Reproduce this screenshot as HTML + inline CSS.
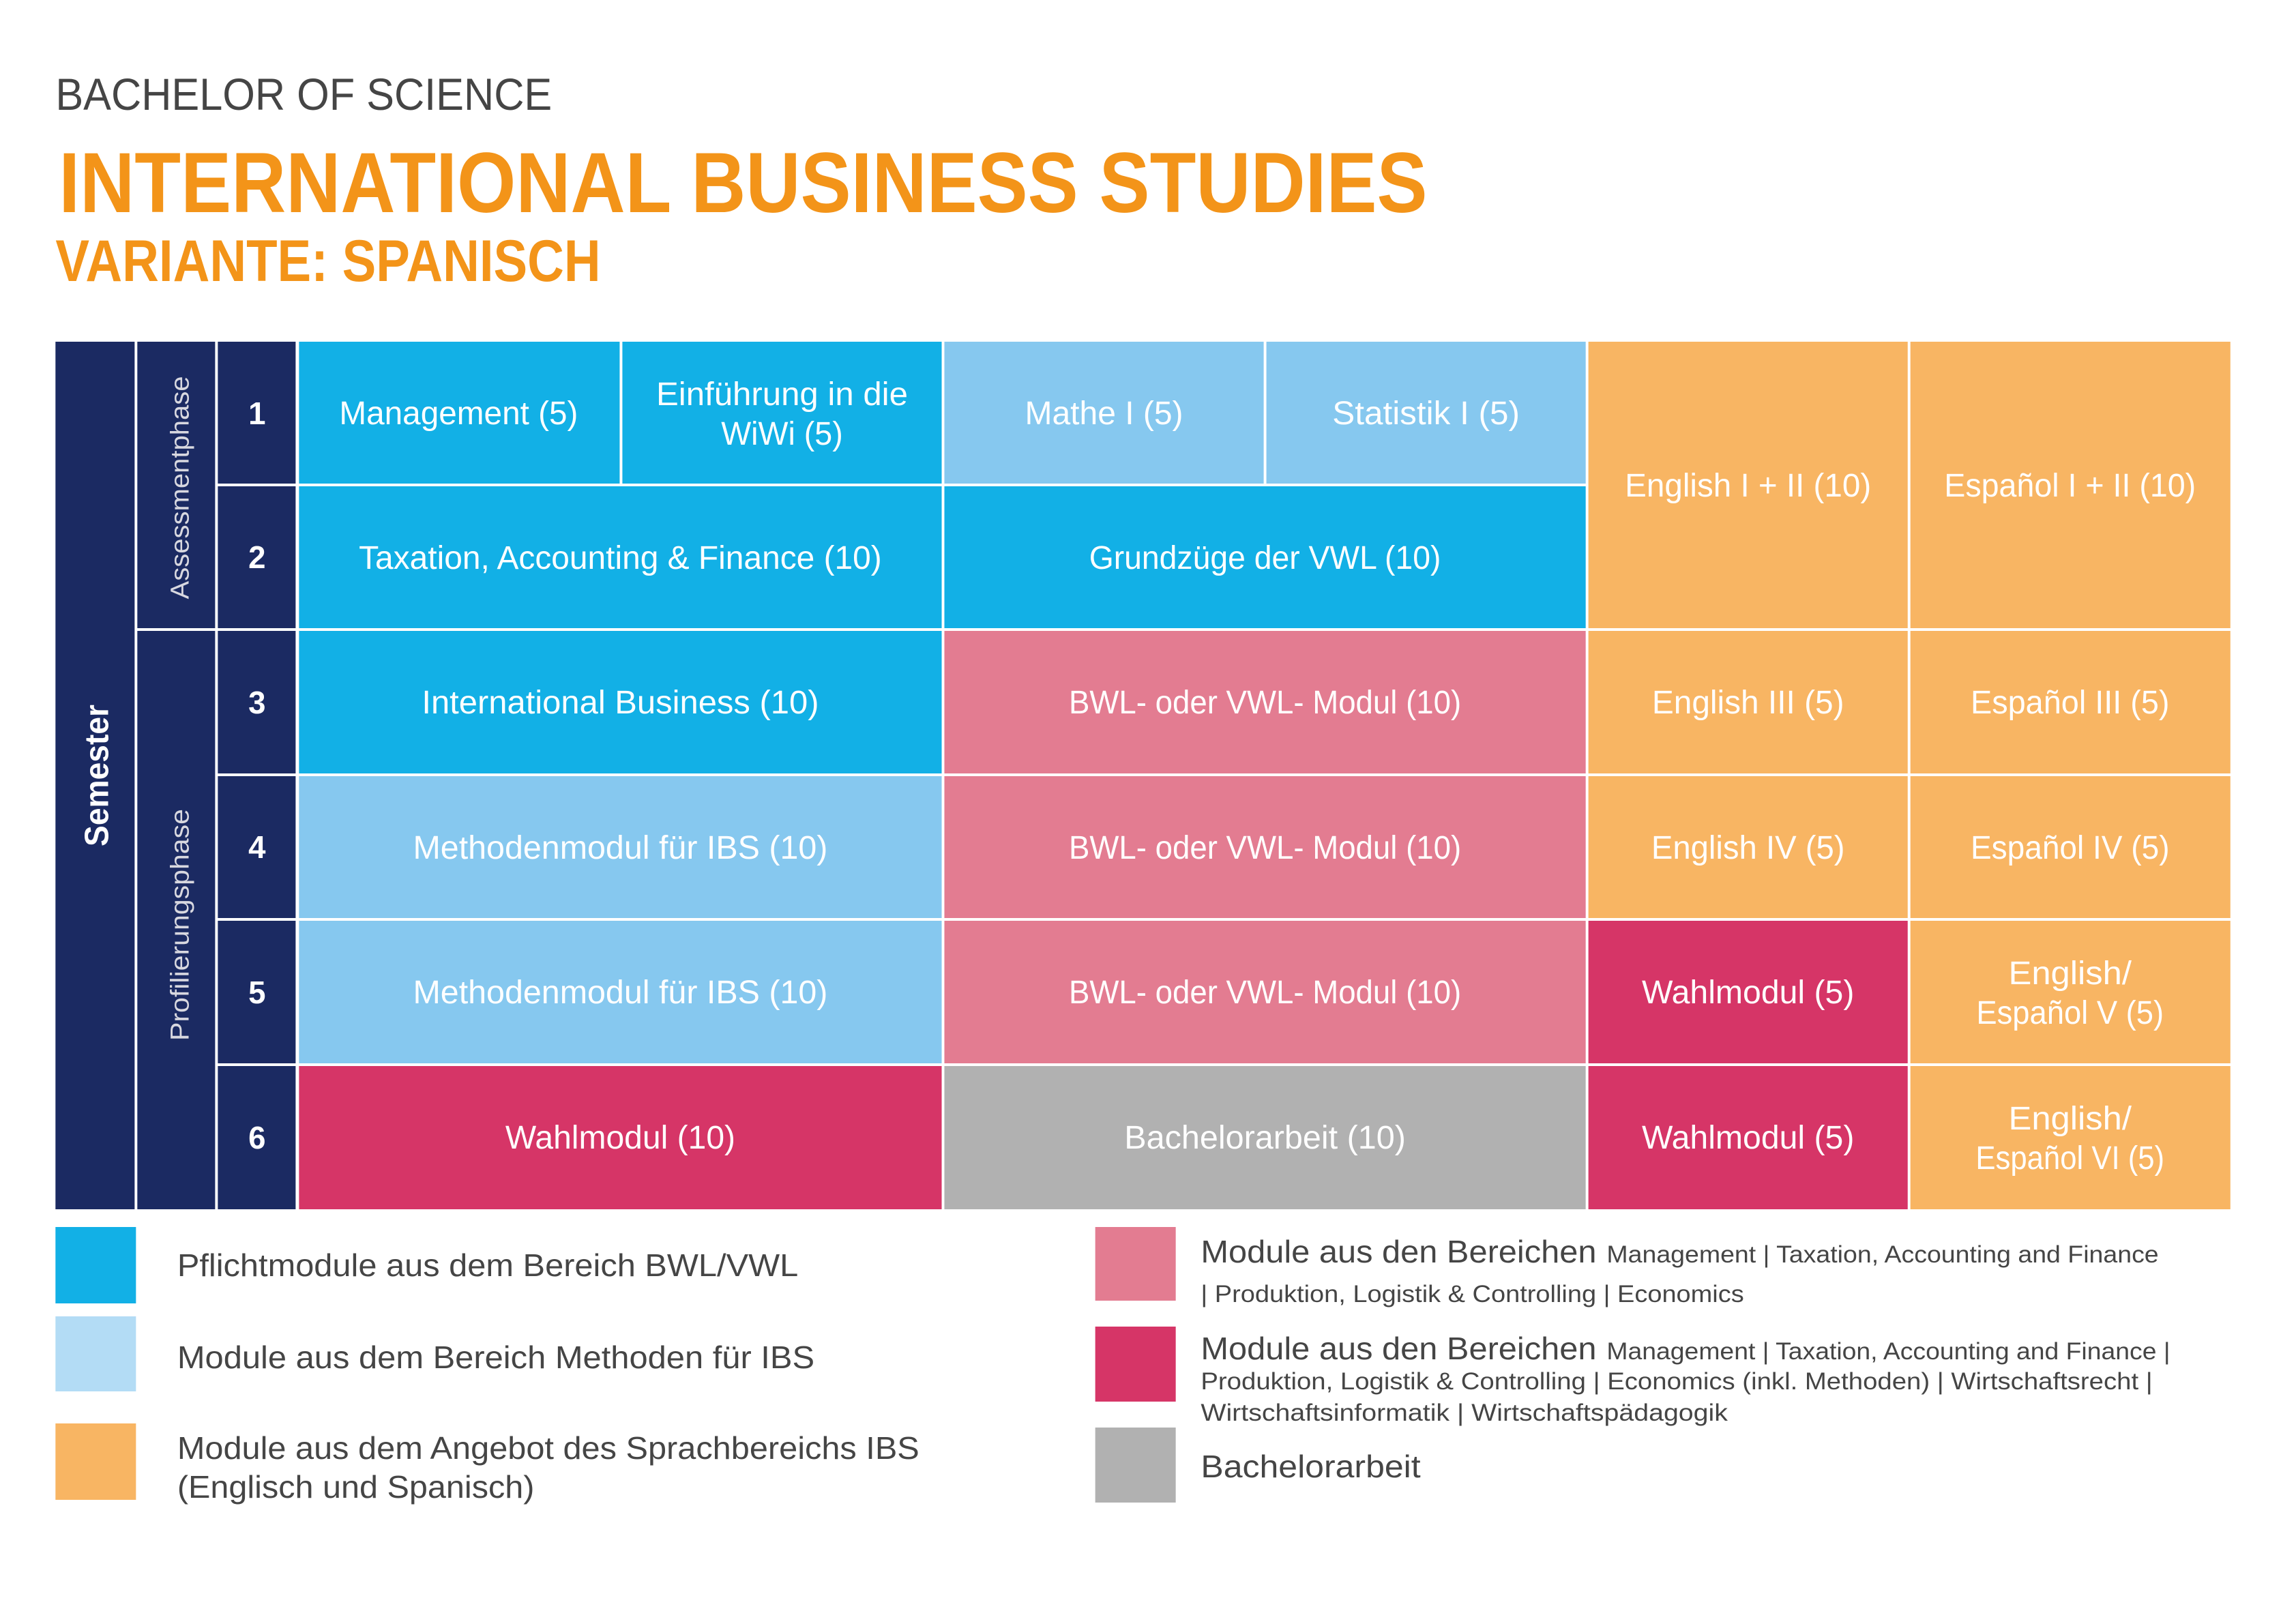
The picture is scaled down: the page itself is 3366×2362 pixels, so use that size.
<!DOCTYPE html>
<html><head><meta charset="utf-8"><style>
html,body{margin:0;padding:0;background:#fff}
svg{display:block}
text{font-family:"Liberation Sans",sans-serif}
</style></head><body>
<svg width="3366" height="2362" viewBox="0 0 3366 2362" xmlns="http://www.w3.org/2000/svg">
<rect width="3366" height="2362" fill="#fff"/>
<g transform="scale(0.99175,1)">
<text x="82" y="161" font-size="66" fill="#454545" textLength="734" lengthAdjust="spacingAndGlyphs">BACHELOR OF SCIENCE</text>
<text x="87" y="311" font-size="125" font-weight="bold" fill="#f39419" textLength="2023" lengthAdjust="spacingAndGlyphs">INTERNATIONAL BUSINESS STUDIES</text>
<text x="82" y="412" font-size="86" font-weight="bold" fill="#f39419" textLength="806" lengthAdjust="spacingAndGlyphs">VARIANTE: SPANISCH</text>

<rect x="82" y="501" width="117" height="1272" fill="#1b2a62"/>
<rect x="203" y="501" width="115" height="420" fill="#1b2a62"/>
<rect x="203" y="925" width="115" height="848" fill="#1b2a62"/>
<rect x="322" y="501" width="115" height="208" fill="#1b2a62"/>
<rect x="322" y="713" width="115" height="208" fill="#1b2a62"/>
<rect x="322" y="925" width="115" height="209" fill="#1b2a62"/>
<rect x="322" y="1138" width="115" height="208" fill="#1b2a62"/>
<rect x="322" y="1350" width="115" height="209" fill="#1b2a62"/>
<rect x="322" y="1563" width="115" height="210" fill="#1b2a62"/>
<text transform="translate(160,1137) rotate(-90)" text-anchor="middle" font-size="50" font-weight="bold" fill="#fff" textLength="208" lengthAdjust="spacingAndGlyphs">Semester</text>
<text transform="translate(279,715) rotate(-90)" text-anchor="middle" font-size="38" fill="#d8d8e0" textLength="327" lengthAdjust="spacingAndGlyphs">Assessmentphase</text>
<text transform="translate(279,1356) rotate(-90)" text-anchor="middle" font-size="38" fill="#d8d8e0" textLength="340" lengthAdjust="spacingAndGlyphs">Profilierungsphase</text>
<g font-size="46" font-weight="bold" fill="#fff" text-anchor="middle">
<text x="380" y="622">1</text><text x="380" y="833">2</text><text x="380" y="1046">3</text>
<text x="380" y="1258">4</text><text x="380" y="1471">5</text><text x="380" y="1684">6</text>
</g>

<rect x="442" y="501" width="474" height="208" fill="#12b0e6"/>
<rect x="920" y="501" width="472" height="208" fill="#12b0e6"/>
<rect x="1396" y="501" width="472" height="208" fill="#86c8ef"/>
<rect x="1872" y="501" width="472" height="208" fill="#86c8ef"/>
<rect x="2348" y="501" width="472" height="420" fill="#f8b563"/>
<rect x="2824" y="501" width="473" height="420" fill="#f8b563"/>
<rect x="442" y="713" width="950" height="208" fill="#12b0e6"/>
<rect x="1396" y="713" width="948" height="208" fill="#12b0e6"/>
<rect x="442" y="925" width="950" height="209" fill="#12b0e6"/>
<rect x="1396" y="925" width="948" height="209" fill="#e37c91"/>
<rect x="2348" y="925" width="472" height="209" fill="#f8b563"/>
<rect x="2824" y="925" width="473" height="209" fill="#f8b563"/>
<rect x="442" y="1138" width="950" height="208" fill="#86c8ef"/>
<rect x="1396" y="1138" width="948" height="208" fill="#e37c91"/>
<rect x="2348" y="1138" width="472" height="208" fill="#f8b563"/>
<rect x="2824" y="1138" width="473" height="208" fill="#f8b563"/>
<rect x="442" y="1350" width="950" height="209" fill="#86c8ef"/>
<rect x="1396" y="1350" width="948" height="209" fill="#e37c91"/>
<rect x="2348" y="1350" width="472" height="209" fill="#d63567"/>
<rect x="2824" y="1350" width="473" height="209" fill="#f8b563"/>
<rect x="442" y="1563" width="950" height="210" fill="#d63567"/>
<rect x="1396" y="1563" width="948" height="210" fill="#b1b1b1"/>
<rect x="2348" y="1563" width="472" height="210" fill="#d63567"/>
<rect x="2824" y="1563" width="473" height="210" fill="#f8b563"/>

<g font-size="48" fill="#fff" text-anchor="middle">
<text x="678" y="622" textLength="353" lengthAdjust="spacingAndGlyphs">Management (5)</text>
<text x="1156" y="594" textLength="372" lengthAdjust="spacingAndGlyphs">Einführung in die</text>
<text x="1156" y="652" textLength="180" lengthAdjust="spacingAndGlyphs">WiWi (5)</text>
<text x="1632" y="622" textLength="234" lengthAdjust="spacingAndGlyphs">Mathe I (5)</text>
<text x="2108" y="622" textLength="277" lengthAdjust="spacingAndGlyphs">Statistik I (5)</text>
<text x="2584" y="728" textLength="364" lengthAdjust="spacingAndGlyphs">English I + II (10)</text>
<text x="3060" y="728" textLength="372" lengthAdjust="spacingAndGlyphs">Español I + II (10)</text>
<text x="917" y="834" textLength="773" lengthAdjust="spacingAndGlyphs">Taxation, Accounting &amp; Finance (10)</text>
<text x="1870" y="834" textLength="520" lengthAdjust="spacingAndGlyphs">Grundzüge der VWL (10)</text>
<text x="917" y="1046" textLength="587" lengthAdjust="spacingAndGlyphs">International Business (10)</text>
<text x="1870" y="1046" textLength="580" lengthAdjust="spacingAndGlyphs">BWL- oder VWL- Modul (10)</text>
<text x="2584" y="1046" textLength="284" lengthAdjust="spacingAndGlyphs">English III (5)</text>
<text x="3060" y="1046" textLength="294" lengthAdjust="spacingAndGlyphs">Español III (5)</text>
<text x="917" y="1259" textLength="613" lengthAdjust="spacingAndGlyphs">Methodenmodul für IBS (10)</text>
<text x="1870" y="1259" textLength="580" lengthAdjust="spacingAndGlyphs">BWL- oder VWL- Modul (10)</text>
<text x="2584" y="1259" textLength="286" lengthAdjust="spacingAndGlyphs">English IV (5)</text>
<text x="3060" y="1259" textLength="294" lengthAdjust="spacingAndGlyphs">Español IV (5)</text>
<text x="917" y="1471" textLength="613" lengthAdjust="spacingAndGlyphs">Methodenmodul für IBS (10)</text>
<text x="1870" y="1471" textLength="580" lengthAdjust="spacingAndGlyphs">BWL- oder VWL- Modul (10)</text>
<text x="2584" y="1471" textLength="314" lengthAdjust="spacingAndGlyphs">Wahlmodul (5)</text>
<text x="3060" y="1443" textLength="182" lengthAdjust="spacingAndGlyphs">English/</text>
<text x="3060" y="1501" textLength="277" lengthAdjust="spacingAndGlyphs">Español V (5)</text>
<text x="917" y="1684" textLength="340" lengthAdjust="spacingAndGlyphs">Wahlmodul (10)</text>
<text x="1870" y="1684" textLength="416" lengthAdjust="spacingAndGlyphs">Bachelorarbeit (10)</text>
<text x="2584" y="1684" textLength="314" lengthAdjust="spacingAndGlyphs">Wahlmodul (5)</text>
<text x="3060" y="1656" textLength="182" lengthAdjust="spacingAndGlyphs">English/</text>
<text x="3060" y="1714" textLength="279" lengthAdjust="spacingAndGlyphs">Español VI (5)</text>
</g>

<rect x="82" y="1799" width="119" height="112" fill="#12b0e6"/>
<rect x="82" y="1930" width="119" height="110" fill="#b3dcf5"/>
<rect x="82" y="2087" width="119" height="112" fill="#f8b563"/>
<rect x="1619" y="1799" width="119" height="108" fill="#e37c91"/>
<rect x="1619" y="1945" width="119" height="110" fill="#d63567"/>
<rect x="1619" y="2093" width="119" height="110" fill="#b1b1b1"/>
<g fill="#454545">
<text x="262" y="1871" font-size="46" textLength="918" lengthAdjust="spacingAndGlyphs">Pflichtmodule aus dem Bereich BWL/VWL</text>
<text x="262" y="2006" font-size="46" textLength="942" lengthAdjust="spacingAndGlyphs">Module aus dem Bereich Methoden für IBS</text>
<text x="262" y="2139" font-size="46" textLength="1097" lengthAdjust="spacingAndGlyphs">Module aus dem Angebot des Sprachbereichs IBS</text>
<text x="262" y="2196" font-size="46" textLength="528" lengthAdjust="spacingAndGlyphs">(Englisch und Spanisch)</text>
<text x="1775" y="1851" font-size="46" textLength="585" lengthAdjust="spacingAndGlyphs">Module aus den Bereichen</text>
<text x="2375" y="1851" font-size="35" textLength="816" lengthAdjust="spacingAndGlyphs">Management | Taxation, Accounting and Finance</text>
<text x="1775" y="1909" font-size="35" textLength="803" lengthAdjust="spacingAndGlyphs">| Produktion, Logistik &amp; Controlling | Economics</text>
<text x="1775" y="1993" font-size="46" textLength="585" lengthAdjust="spacingAndGlyphs">Module aus den Bereichen</text>
<text x="2375" y="1993" font-size="35" textLength="833" lengthAdjust="spacingAndGlyphs">Management | Taxation, Accounting and Finance |</text>
<text x="1775" y="2037" font-size="35" textLength="1407" lengthAdjust="spacingAndGlyphs">Produktion, Logistik &amp; Controlling | Economics (inkl. Methoden) | Wirtschaftsrecht |</text>
<text x="1775" y="2083" font-size="35" textLength="779" lengthAdjust="spacingAndGlyphs">Wirtschaftsinformatik | Wirtschaftspädagogik</text>
<text x="1775" y="2166" font-size="46" textLength="325" lengthAdjust="spacingAndGlyphs">Bachelorarbeit</text>
</g>
</g>
</svg>
</body></html>
